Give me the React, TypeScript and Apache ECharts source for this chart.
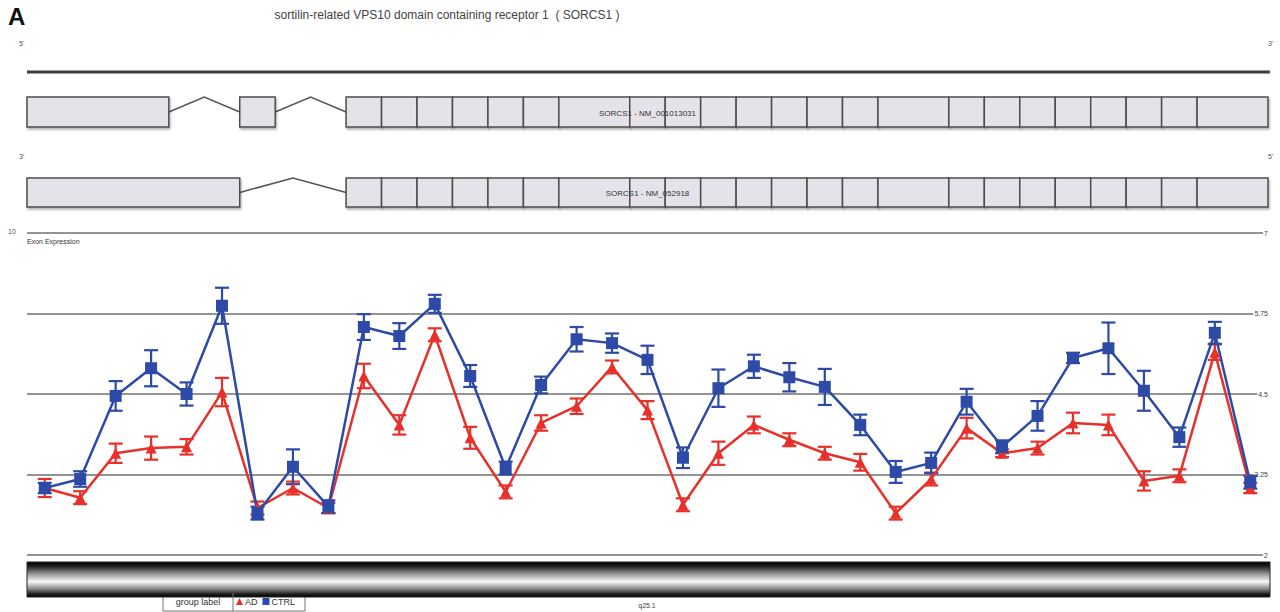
import React, { useEffect, useRef } from "react";
import * as echarts from "echarts";

// Probe sets along SORCS1 (5' -> 3'), one per exon-level measurement
const probes = [
  "1", "2", "3", "4", "5", "6", "7", "8", "9", "10",
  "11", "12", "13", "14", "15", "16", "17", "18", "19", "20",
  "21", "22", "23", "24", "25", "26", "27", "28", "29", "30",
  "31", "32", "33", "34", "35",
];

// Mean exon expression and error per group
const adMean = [
  3.04, 2.89, 3.58, 3.66, 3.68, 4.53, 2.73, 3.04, 2.73, 4.78,
  4.02, 5.42, 3.82, 2.98, 4.05, 4.31, 4.92, 4.25, 2.78, 3.58,
  4.02, 3.79, 3.58, 3.44, 2.65, 3.18, 3.97, 3.58, 3.66, 4.05,
  4.02, 3.15, 3.23, 5.15, 3.04,
];
const adErr = [
  0.14, 0.1, 0.15, 0.18, 0.12, 0.22, 0.1, 0.1, 0.08, 0.19,
  0.15, 0.1, 0.17, 0.1, 0.12, 0.12, 0.1, 0.14, 0.1, 0.18,
  0.13, 0.1, 0.1, 0.13, 0.1, 0.1, 0.16, 0.06, 0.1, 0.16,
  0.16, 0.15, 0.1, 0.12, 0.08,
];
const ctrlMean = [
  3.04, 3.18, 4.47, 4.9, 4.5, 5.87, 2.65, 3.37, 2.75, 5.54,
  5.4, 5.9, 4.78, 3.35, 4.64, 5.35, 5.29, 5.03, 3.51, 4.59,
  4.93, 4.76, 4.61, 4.02, 3.29, 3.43, 4.38, 3.68, 4.16, 5.06,
  5.21, 4.55, 3.83, 5.45, 3.13,
];
const ctrlErr = [
  0.08, 0.12, 0.23, 0.28, 0.18, 0.28, 0.1, 0.27, 0.1, 0.2,
  0.2, 0.14, 0.17, 0.1, 0.13, 0.19, 0.15, 0.22, 0.16, 0.29,
  0.18, 0.22, 0.28, 0.16, 0.17, 0.16, 0.2, 0.1, 0.23, 0.08,
  0.4, 0.31, 0.15, 0.17, 0.1,
];

// Exon extents of the two transcripts, in probe-grid units (0..35)
const sharedExons = [
  [9, 10], [10, 11], [11, 12], [12, 13], [13, 14], [14, 15], [15, 17],
  [17, 18], [18, 19], [19, 20], [20, 21], [21, 22], [22, 23], [23, 24],
  [24, 26], [26, 27], [27, 28], [28, 29], [29, 30], [30, 31], [31, 32],
  [32, 33], [33, 35],
];
const transcriptA = [[0, 4], [6, 7], ...sharedExons];
const transcriptB = [[0, 6], ...sharedExons];

const yTicks = { min: 2, max: 7, step: 1.25 };

const RED = "#e8302a";
const BLUE = "#2c4aa6";
const FONT = "'Liberation Sans', Arial, sans-serif";

function errorSeries(name: string, mean: number[], err: number[], color: string) {
  return {
    name,
    type: "custom",
    xAxisIndex: 0,
    yAxisIndex: 0,
    data: mean.map((m, i) => [i, m - err[i], m + err[i]]),
    encode: { x: 0, y: [1, 2] },
    silent: true,
    renderItem: (_p: any, api: any) => {
      const lo = api.coord([api.value(0), api.value(1)]);
      const hi = api.coord([api.value(0), api.value(2)]);
      const w = 7;
      const style = { stroke: color, lineWidth: 2.2 };
      return {
        type: "group",
        children: [
          { type: "line", shape: { x1: hi[0], y1: hi[1], x2: lo[0], y2: lo[1] }, style },
          { type: "line", shape: { x1: hi[0] - w, y1: hi[1], x2: hi[0] + w, y2: hi[1] }, style },
          { type: "line", shape: { x1: lo[0] - w, y1: lo[1], x2: lo[0] + w, y2: lo[1] }, style },
        ],
      };
    },
  };
}

function transcriptGraphics(px: (k: number) => number, exons: number[][], top: number, h: number, label: string) {
  const out: any[] = [];
  const mid = top + h / 2;
  for (let i = 0; i < exons.length - 1; i++) {
    const a = exons[i][1];
    const b = exons[i + 1][0];
    if (b > a) {
      out.push({
        type: "polyline",
        shape: { points: [[px(a), mid], [px((a + b) / 2), top], [px(b), mid]] },
        style: { stroke: "#555", lineWidth: 1.5, fill: null },
      });
    }
  }
  exons.forEach(([s, e]) => {
    out.push({
      type: "rect",
      shape: { x: px(s), y: top, width: px(e) - px(s), height: h },
      style: {
        fill: "#e5e3e9",
        stroke: "#4e4e4e",
        lineWidth: 1.5,
        shadowColor: "rgba(0,0,0,0.3)",
        shadowOffsetY: 2,
        shadowOffsetX: 1,
        shadowBlur: 2,
      },
    });
  });
  out.push({
    type: "text",
    x: px(17.5),
    y: mid + 1,
    style: {
      text: label,
      fontSize: 8,
      fontFamily: FONT,
      fill: "#333",
      align: "center",
      verticalAlign: "middle",
    },
  });
  return out;
}

export default function App() {
  const ref = useRef<HTMLDivElement>(null);

  useEffect(() => {
    document.body.style.margin = "0";
    if (!ref.current) return;
    const chart = echarts.init(ref.current, null, { renderer: "svg" });

    const gridLeft = 27;
    const gridRight = 12;

    chart.setOption({
      animation: false,
      backgroundColor: "#fff",
      grid: { left: gridLeft, right: gridRight, top: 233, height: 322 },
      xAxis: [
        {
          type: "category",
          data: probes,
          boundaryGap: true,
          axisLine: { show: false },
          axisTick: { show: false },
          axisLabel: { show: false },
          splitLine: { show: false },
        },
        { type: "value", min: 0, max: 35, show: false },
      ],
      yAxis: {
        type: "value",
        position: "right",
        min: yTicks.min,
        max: yTicks.max,
        interval: yTicks.step,
        axisLine: { show: false },
        axisTick: { show: false },
        axisLabel: {
          inside: true,
          margin: 0,
          fontSize: 7,
          fontFamily: FONT,
          color: "#444",
          backgroundColor: "#fff",
          padding: [0, 0, 0, 1],
        },
        splitLine: { show: true, lineStyle: { color: "#707070", width: 1.5 } },
      },
      legend: {
        left: 236,
        top: 597,
        itemWidth: 7,
        itemHeight: 7,
        itemGap: 5,
        padding: 0,
        textStyle: { fontSize: 9, fontFamily: FONT, color: "#333", padding: [0, 0, 0, -3] },
        data: [
          { name: "AD", icon: "triangle" },
          { name: "CTRL", icon: "rect" },
        ],
      },
      series: [
        errorSeries("AD sd", adMean, adErr, RED),
        {
          name: "AD",
          type: "line",
          data: adMean,
          symbol: "triangle",
          symbolSize: 11,
          lineStyle: { color: RED, width: 2.5 },
          itemStyle: { color: RED },
        },
        errorSeries("CTRL sd", ctrlMean, ctrlErr, BLUE),
        {
          name: "CTRL",
          type: "line",
          data: ctrlMean,
          symbol: "rect",
          symbolSize: 12,
          lineStyle: { color: BLUE, width: 2.5 },
          itemStyle: { color: BLUE },
        },
      ],
    });

    const px = (k: number) => chart.convertToPixel({ xAxisIndex: 1 } as any, k) as number;
    const x0 = px(0);
    const x1 = px(35);

    const small = { fontSize: 7, fontFamily: FONT, fill: "#555" };

    const graphics: any[] = [
      {
        type: "text",
        x: 8,
        y: 4,
        style: { text: "A", fontSize: 24, fontWeight: "bold", fontFamily: FONT, fill: "#111" },
      },
      {
        type: "text",
        x: 447,
        y: 15,
        style: {
          text: "sortilin-related VPS10 domain containing receptor 1  ( SORCS1 )",
          fontSize: 12,
          fontFamily: FONT,
          fill: "#444",
          align: "center",
          verticalAlign: "middle",
        },
      },
      { type: "text", x: 19, y: 40, style: { ...small, text: "5'" } },
      { type: "text", x: 1268, y: 40, style: { ...small, text: "3'" } },
      { type: "text", x: 19, y: 153, style: { ...small, text: "3'" } },
      { type: "text", x: 1268, y: 153, style: { ...small, text: "5'" } },
      {
        type: "line",
        shape: { x1: x0, y1: 72, x2: x1 + 2, y2: 72 },
        style: { stroke: "#3c3c3c", lineWidth: 3 },
      },
      ...transcriptGraphics(px, transcriptA, 97, 30, "SORCS1 - NM_001013031"),
      ...transcriptGraphics(px, transcriptB, 178, 29, "SORCS1 - NM_052918"),
      { type: "text", x: 8, y: 228, style: { ...small, text: "10" } },
      { type: "text", x: 27, y: 238, style: { ...small, text: "Exon Expression", fill: "#333" } },
      {
        type: "rect",
        shape: { x: x0, y: 562, width: x1 - x0 + 2, height: 35 },
        style: {
          stroke: "#222",
          lineWidth: 1,
          fill: new echarts.graphic.LinearGradient(0, 0, 0, 1, [
            { offset: 0, color: "#000" },
            { offset: 0.12, color: "#1e1e1e" },
            { offset: 0.35, color: "#9a9a9a" },
            { offset: 0.56, color: "#fafafa" },
            { offset: 0.76, color: "#8c8c8c" },
            { offset: 0.92, color: "#1c1c1c" },
            { offset: 1, color: "#000" },
          ]),
        },
      },
      {
        type: "text",
        x: 647,
        y: 605,
        style: { ...small, text: "q25.1", align: "center", verticalAlign: "middle", fill: "#444" },
      },
      {
        type: "rect",
        shape: { x: 163, y: 593, width: 142, height: 18 },
        style: { fill: "#fff", stroke: "#777", lineWidth: 1 },
        z: -1,
      },
      {
        type: "line",
        shape: { x1: 233, y1: 593, x2: 233, y2: 611 },
        style: { stroke: "#777", lineWidth: 1 },
      },
      {
        type: "text",
        x: 198,
        y: 602,
        style: {
          text: "group label",
          fontSize: 9,
          fontFamily: FONT,
          fill: "#333",
          align: "center",
          verticalAlign: "middle",
        },
      },
    ];

    chart.setOption({ graphic: graphics });

    return () => chart.dispose();
  }, []);

  return <div ref={ref} style={{ width: 1280, height: 612 }} />;
}
